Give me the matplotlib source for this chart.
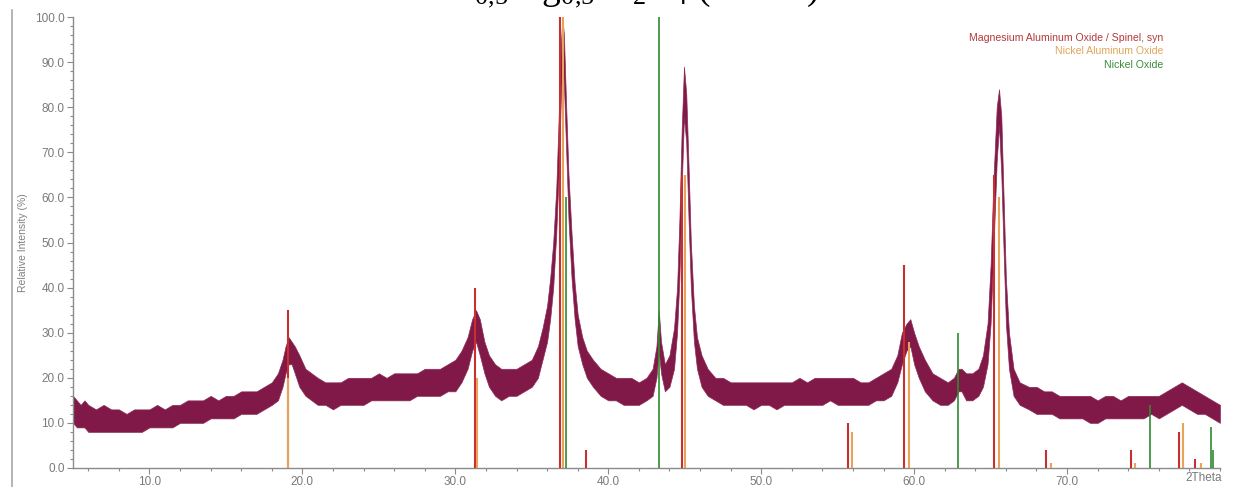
import matplotlib
matplotlib.use("Agg")
import matplotlib.pyplot as plt
from matplotlib.lines import Line2D
from matplotlib.ticker import MultipleLocator, FixedLocator

plt.rcParams['font.family'] = ['Liberation Sans', 'DejaVu Sans']
plt.rcParams['mathtext.fontset'] = 'custom'
plt.rcParams['mathtext.rm'] = 'Liberation Serif'
plt.rcParams['mathtext.it'] = 'Liberation Serif:italic'

# ---- measured pattern (band of the noisy trace: lower / upper envelope, %) ----
theta = [5.0, 5.25, 5.5, 5.75, 6.0, 6.5, 7.0, 7.5, 8.0, 8.5, 9.0, 9.5, 10.0, 10.5, 11.0, 11.5,
         12.0, 12.5, 13.0, 13.5, 14.0, 14.5, 15.0, 15.5, 16.0, 16.5, 17.0, 17.5, 18.0, 18.4,
         18.7, 18.9, 19.1, 19.3, 19.5, 19.8, 20.2, 20.6, 21.0, 21.5, 22.0, 22.5, 23.0, 23.5,
         24.0, 24.5, 25.0, 25.5, 26.0, 26.5, 27.0, 27.5, 28.0, 28.5, 29.0, 29.5, 30.0, 30.4,
         30.8, 31.1, 31.35, 31.6, 31.9, 32.2, 32.6, 33.0, 33.5, 34.0, 34.5, 35.0, 35.4, 35.7,
         36.0, 36.2, 36.4, 36.6, 36.75, 36.9, 37.0, 37.1, 37.25, 37.4, 37.6, 37.8, 38.0, 38.3,
         38.6, 39.0, 39.5, 40.0, 40.5, 41.0, 41.5, 42.0, 42.5, 42.9, 43.15, 43.3, 43.45, 43.7,
         44.0, 44.3, 44.5, 44.65, 44.8, 44.95, 45.1, 45.25, 45.4, 45.6, 45.8, 46.1, 46.5, 47.0,
         47.5, 48.0, 48.5, 49.0, 49.5, 50.0, 50.5, 51.0, 51.5, 52.0, 52.5, 53.0, 53.5, 54.0,
         54.5, 55.0, 55.5, 56.0, 56.5, 57.0, 57.5, 58.0, 58.5, 58.9, 59.2, 59.5, 59.75, 60.0,
         60.3, 60.7, 61.2, 61.7, 62.2, 62.6, 62.9, 63.1, 63.4, 63.8, 64.2, 64.5, 64.8, 65.0,
         65.2, 65.4, 65.55, 65.7, 65.85, 66.0, 66.2, 66.5, 66.9, 67.5, 68.0, 68.5, 69.0, 69.5,
         70.0, 70.5, 71.0, 71.5, 72.0, 72.5, 73.0, 73.5, 74.0, 74.5, 75.0, 75.5, 76.0, 76.5,
         77.0, 77.5, 78.0, 78.5, 79.0, 79.5, 80.0]
low = [10, 9, 9, 9, 8, 8, 8, 8, 8, 8, 8, 8, 9, 9, 9, 9,
       10, 10, 10, 10, 11, 11, 11, 11, 12, 12, 12, 13, 14, 15,
       18, 21, 23, 23, 21, 18, 16, 15, 14, 14, 13, 14, 14, 14,
       14, 15, 15, 15, 15, 15, 15, 16, 16, 16, 16, 17, 17, 19,
       22, 26, 28, 25, 21, 18, 16, 15, 16, 16, 17, 18, 20, 24,
       28, 33, 40, 52, 65, 82, 90, 85, 70, 55, 42, 33, 27, 23,
       20, 18, 16, 15, 15, 14, 14, 14, 15, 16, 20, 26, 21, 17,
       18, 22, 30, 42, 62, 78, 72, 55, 40, 28, 22, 18, 16, 15,
       14, 14, 14, 14, 13, 14, 14, 13, 14, 14, 14, 14, 14, 14,
       15, 14, 14, 14, 14, 14, 15, 15, 16, 19, 23, 26, 27, 23,
       20, 17, 15, 14, 14, 15, 17, 17, 15, 15, 16, 18, 23, 32,
       50, 68, 76, 65, 48, 32, 22, 16, 14, 13, 12, 12, 12, 11,
       11, 11, 11, 10, 10, 11, 11, 11, 11, 11, 11, 12, 11, 12,
       13, 14, 13, 12, 12, 11, 10]
high = [16, 15, 14, 15, 14, 13, 14, 13, 13, 12, 13, 13, 13, 14, 13, 14,
        14, 15, 15, 15, 16, 15, 16, 16, 17, 17, 17, 18, 19, 21,
        24, 27, 29, 28, 27, 25, 22, 21, 20, 19, 19, 19, 20, 20,
        20, 20, 21, 20, 21, 21, 21, 21, 22, 22, 22, 23, 24, 26,
        29, 33, 35, 33, 28, 25, 23, 22, 22, 22, 23, 24, 27, 31,
        36, 42, 50, 62, 77, 94, 100, 96, 80, 65, 52, 41, 34, 29,
        26, 24, 22, 21, 20, 20, 20, 19, 20, 22, 27, 35, 28, 23,
        25, 31, 40, 55, 75, 89, 83, 67, 50, 36, 29, 25, 22, 20,
        20, 19, 19, 19, 19, 19, 19, 19, 19, 19, 20, 19, 20, 20,
        20, 20, 20, 20, 19, 19, 20, 21, 22, 25, 30, 32, 33, 30,
        27, 24, 21, 20, 19, 20, 22, 22, 21, 21, 22, 25, 32, 45,
        65, 80, 84, 78, 60, 42, 30, 22, 19, 18, 18, 17, 17, 16,
        16, 16, 16, 16, 15, 16, 16, 15, 16, 16, 16, 16, 16, 17,
        18, 19, 18, 17, 16, 15, 14]

# ---- reference patterns (2theta, relative intensity %) ----
spinel_pos = [19.03, 31.27, 36.85, 38.55, 44.83, 55.66, 59.37, 65.24, 68.65, 74.15, 77.33, 78.35]
spinel_int = [35, 40, 100, 4, 65, 10, 45, 65, 4, 4, 8, 2]
nial_pos = [19.08, 31.40, 37.01, 45.00, 55.95, 59.65, 65.55, 68.95, 74.45, 77.55, 78.75]
nial_int = [20, 20, 100, 65, 8, 28, 60, 1, 1, 10, 1]
nio_pos = [37.25, 43.29, 62.88, 75.42, 79.40, 79.55]
nio_int = [60, 100, 30, 14, 9, 4]

legend_labels = ["Magnesium Aluminum Oxide / Spinel, syn", "Nickel Aluminum Oxide", "Nickel Oxide"]
x_ticks = [10, 20, 30, 40, 50, 60, 70]
y_ticks = [0, 10, 20, 30, 40, 50, 60, 70, 80, 90, 100]

W, H = 1237, 487
fig = plt.figure(figsize=(W / 100, H / 100), dpi=100)
fig.patch.set_facecolor('white')
ax = fig.add_axes([73 / W, 1 - 468 / H, (1220 - 73) / W, (468 - 17) / H])

trace_c = '#7a0c3e'
ax.fill_between(theta, low, high, color=trace_c, lw=0.5, edgecolor='#8a2a55', alpha=0.95, zorder=2)

red_c, orange_c, green_c = '#c8302f', '#e9a25a', '#2f8a2f'
ax.vlines(spinel_pos, 0, spinel_int, color=red_c, lw=1.5, zorder=3)
ax.vlines(nial_pos, 0, nial_int, color=orange_c, lw=1.5, zorder=4)
ax.vlines(nio_pos, 0, nio_int, color=green_c, lw=1.2, zorder=5)

ax.set_xlim(5, 80)
ax.set_ylim(0, 100)
ax.xaxis.set_major_locator(FixedLocator(x_ticks))
ax.xaxis.set_minor_locator(MultipleLocator(2))
ax.yaxis.set_major_locator(FixedLocator(y_ticks))
ax.yaxis.set_minor_locator(MultipleLocator(2))
ax.set_xticklabels([f"{t:.1f}" for t in x_ticks])
ax.set_yticklabels([f"{t:.1f}" for t in y_ticks])

axis_c = '#8a8a8a'
for s in ['top', 'right']:
    ax.spines[s].set_visible(False)
for s in ['left', 'bottom']:
    ax.spines[s].set_color(axis_c)
    ax.spines[s].set_linewidth(1.0)
ax.tick_params(which='both', direction='out', color=axis_c, width=0.8, labelcolor='#7a7a7a', labelsize=8.5)
ax.tick_params(which='major', length=4, pad=2)
ax.tick_params(which='minor', length=2.5)

fig.text(1222 / W, 1 - 478 / H, '2Theta', ha='right', va='center', fontsize=8.5, color='#7a7a7a')
fig.text(23 / W, 1 - 243 / H, 'Relative Intensity (%)', rotation=90, ha='center', va='center',
         fontsize=7.5, color='#808080')

leg_cols = ['#b33a3c', '#e0a55a', '#3b8c3b']
for i, (lab, c) in enumerate(zip(legend_labels, leg_cols)):
    fig.text(1163 / W, 1 - (38 + 13.5 * i) / H, lab, ha='right', va='center', fontsize=7.6, color=c)

fig.add_artist(Line2D([12 / W, 12 / W], [0, 1 - 10 / H], color='#a8a8a8', lw=1.2, transform=fig.transFigure))

fig.text(628 / W, 1 + 0.5 / H, r'Ni$_{0{,}5}$Mg$_{0{,}5}$Al$_{2}$O$_{4}$ (900°C)', ha='center', va='baseline',
         fontsize=27, family='Liberation Serif', color='black')

fig.savefig('out.png', dpi=100, facecolor='white')
